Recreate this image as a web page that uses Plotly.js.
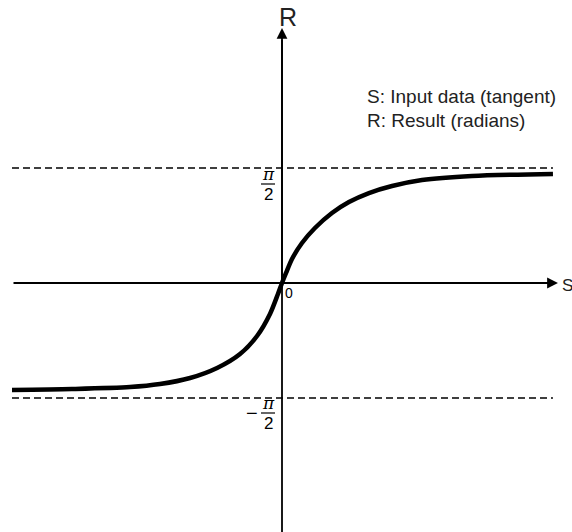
<!DOCTYPE html>
<html>
<head>
<meta charset="utf-8">
<script src="https://cdn.plot.ly/plotly-3.0.1.min.js"></script>
<style>html,body{margin:0;padding:0;background:#fff;}#chart{width:572px;height:532px;}</style>
</head>
<body>
<div id="chart"></div>
<script>
// Curve: S (input, tangent) and R (result, radians)
const sValues = [-20.0, -15.56, -11.26, -9.04, -6.81, -4.81, -3.11, -1.85, -0.89, -0.30, 0, 0.30, 0.74, 1.48, 2.44, 3.70, 4.96, 6.44, 8.15, 10.37, 14.07, 20.07];
const rValues = [-1.462, -1.448, -1.421, -1.380, -1.298, -1.161, -0.970, -0.724, -0.423, -0.150, 0, 0.137, 0.328, 0.546, 0.751, 0.956, 1.106, 1.229, 1.325, 1.407, 1.462, 1.489];
const asymptotes = [Math.PI / 2, -Math.PI / 2];
const legendLines = ["S: Input data (tangent)", "R: Result (radians)"];
const axisNames = {x: "S", y: "R"};
const originLabel = "0";

const W = 572, H = 532;
const xRange = [-20.889, 21.481];
const yRange = [-3.401, 3.8655];
const px = v => v / W;            // pixel x -> paper
const py = v => 1 - v / H;        // pixel y -> paper

const traces = [{
  x: sValues, y: rValues, type: 'scatter', mode: 'lines',
  line: {color: '#000', width: 4.5, shape: 'spline', smoothing: 0.8},
  hoverinfo: 'skip'
}];

const shapes = [];
asymptotes.forEach(a => shapes.push({
  type: 'line', xref: 'x', yref: 'y', x0: -20.0, x1: 20.07, y0: a, y1: a,
  line: {color: '#000', width: 1.5, dash: '7px,4px'}
}));
// y axis line down to the bottom edge
shapes.push({type: 'line', xref: 'x', yref: 'paper', x0: 0, x1: 0, y0: 0, y1: py(40),
  line: {color: '#000', width: 1.8}});
// fraction bars for ±π/2 labels
[184, 413].forEach(yy => shapes.push({
  type: 'line', xref: 'paper', yref: 'paper', x0: px(261), x1: px(275), y0: py(yy), y1: py(yy),
  line: {color: '#000', width: 1.2}
}));

const font = {family: 'Liberation Sans, Arial, sans-serif', color: '#222'};
const ann = [];
// axes with arrows
ann.push({xref: 'x', yref: 'y', axref: 'x', ayref: 'y', x: 20.44, y: 0, ax: -20.0, ay: 0,
  text: '', showarrow: true, arrowhead: 2, arrowsize: 1.2, arrowwidth: 1.8, arrowcolor: '#000'});
ann.push({xref: 'x', yref: 'y', axref: 'x', ayref: 'y', x: 0, y: 3.483, ax: 0, ay: 0,
  text: '', showarrow: true, arrowhead: 2, arrowsize: 1.2, arrowwidth: 1.8, arrowcolor: '#000'});
// axis names
ann.push({xref: 'paper', yref: 'paper', x: px(288), y: py(17), text: axisNames.y, showarrow: false,
  font: Object.assign({}, font, {size: 25}), xanchor: 'center', yanchor: 'middle'});
ann.push({xref: 'paper', yref: 'paper', x: px(567), y: py(285), text: axisNames.x, showarrow: false,
  font: Object.assign({}, font, {size: 17}), xanchor: 'center', yanchor: 'middle'});
ann.push({xref: 'paper', yref: 'paper', x: px(289), y: py(293), text: originLabel, showarrow: false,
  font: Object.assign({}, font, {size: 14, color: '#000'}), xanchor: 'center', yanchor: 'middle'});
// π/2 and −π/2 labels
const fracFont = Object.assign({}, font, {size: 17, color: '#000', family: 'DejaVu Serif, serif'});
const numFont = Object.assign({}, font, {size: 17, color: '#000'});
ann.push({xref: 'paper', yref: 'paper', x: px(268), y: py(174), text: '<i>π</i>', showarrow: false, font: fracFont, xanchor: 'center', yanchor: 'middle'});
ann.push({xref: 'paper', yref: 'paper', x: px(268), y: py(194), text: '2', showarrow: false, font: numFont, xanchor: 'center', yanchor: 'middle'});
ann.push({xref: 'paper', yref: 'paper', x: px(268), y: py(403), text: '<i>π</i>', showarrow: false, font: fracFont, xanchor: 'center', yanchor: 'middle'});
ann.push({xref: 'paper', yref: 'paper', x: px(268), y: py(423), text: '2', showarrow: false, font: numFont, xanchor: 'center', yanchor: 'middle'});
ann.push({xref: 'paper', yref: 'paper', x: px(252), y: py(413), text: '−', showarrow: false,
  font: Object.assign({}, numFont, {size: 20}), xanchor: 'center', yanchor: 'middle'});
// explanatory text
legendLines.forEach((t, i) => ann.push({
  xref: 'paper', yref: 'paper', x: px(365), y: py(97 + i * 23), text: t, showarrow: false,
  font: Object.assign({}, font, {size: 19}), xanchor: 'left', yanchor: 'middle'
}));

const layout = {
  width: W, height: H,
  margin: {l: 0, r: 0, t: 0, b: 0, pad: 0},
  paper_bgcolor: '#fff', plot_bgcolor: '#fff',
  showlegend: false,
  xaxis: {range: xRange, visible: false, fixedrange: true},
  yaxis: {range: yRange, visible: false, fixedrange: true},
  shapes: shapes,
  annotations: ann
};

Plotly.newPlot('chart', traces, layout, {displayModeBar: false, staticPlot: true});
</script>
</body>
</html>
